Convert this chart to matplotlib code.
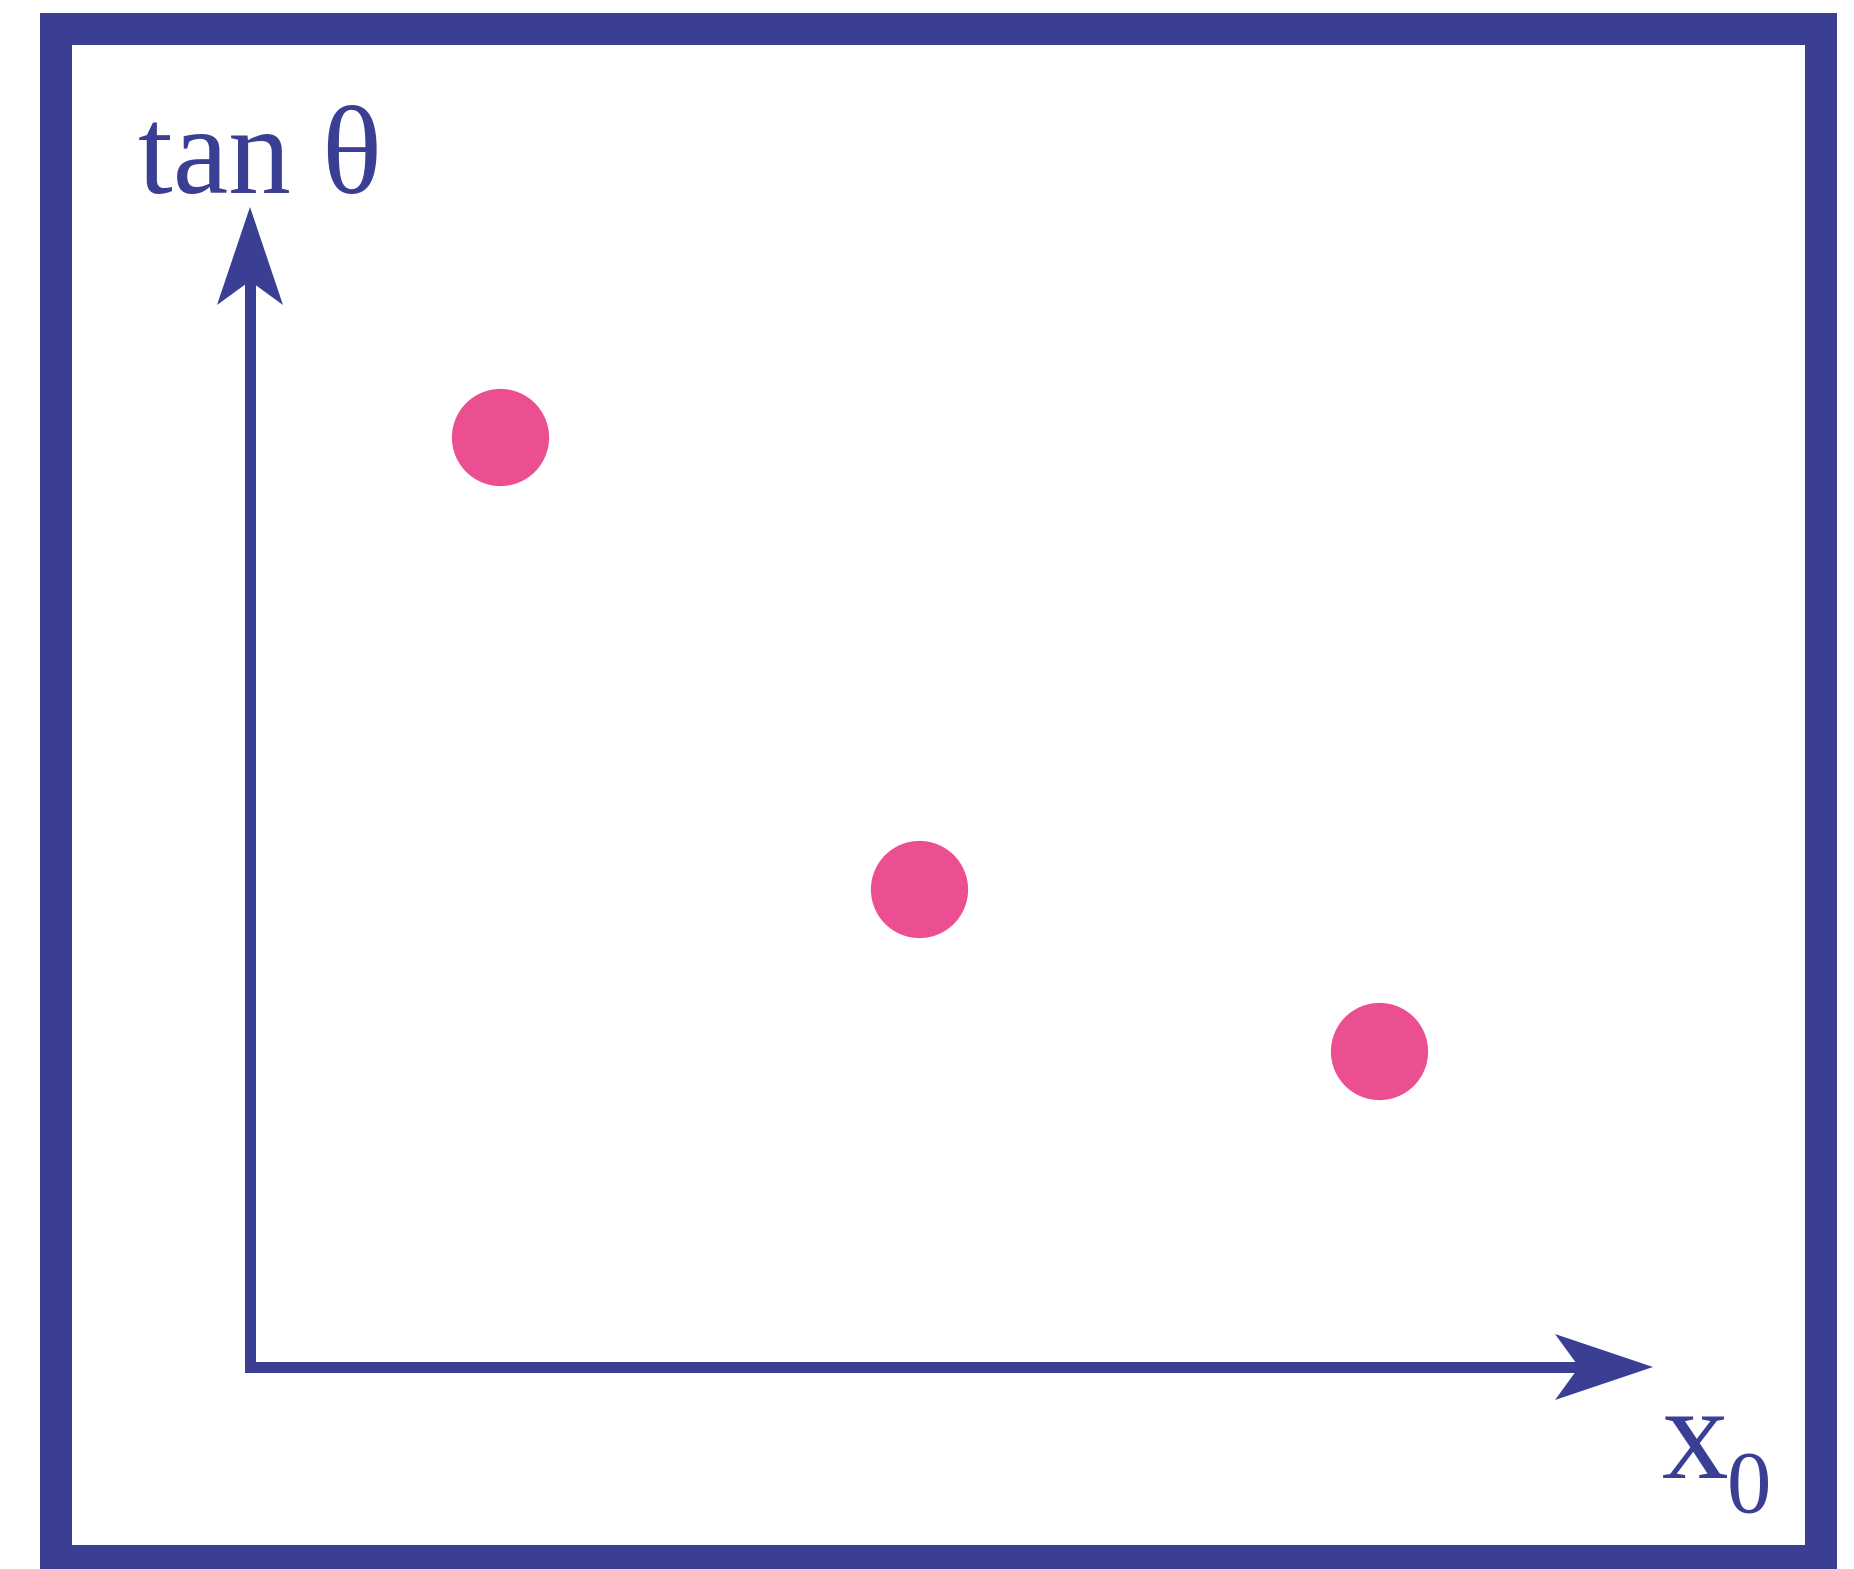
import numpy as np
import matplotlib.pyplot as plt
from matplotlib.patches import Rectangle, Polygon

# data: three measurements of tan(theta) against x0 (arbitrary units)
x0 = [2.5, 6.69, 11.29]
tan_theta = [9.3, 4.78, 3.16]

navy = '#3a3f94'
pink = '#ec4f91'

W, H = 1854, 1569
ox, oy = 250, 1367          # pixel position of the origin
scale = 100.0               # pixels per unit

fig = plt.figure(figsize=(W / 100, H / 100), dpi=100)
ax = fig.add_axes([0, 0, 1, 1])
ax.set_xlim(-ox / scale, (W - ox) / scale)
ax.set_ylim(-(H - oy) / scale, oy / scale)
ax.axis('off')

# outer frame, in figure pixels
frame = Rectangle((56 / W, 1 - 1561 / H), (1820.5 - 56) / W, (1561 - 28.5) / H,
                  transform=fig.transFigure, fill=False, edgecolor=navy,
                  linewidth=32 * 0.72, joinstyle='miter')
fig.patches.append(frame)

# axes lines with notched arrow heads
x_len = (1653 - ox) / scale
y_len = (oy - 207) / scale
lw = 11 * 0.72
ax.plot([0, 0], [0, y_len - 0.5], color=navy, lw=lw, solid_capstyle='butt')
ax.plot([0, x_len - 0.5], [0, 0], color=navy, lw=lw, solid_capstyle='butt')
ax.plot([0], [0], marker='s', ms=lw, color=navy, mew=0)

hl, hw, nd = 0.98, 0.33, 0.74
ax.add_patch(Polygon([[0, y_len], [-hw, y_len - hl], [0, y_len - nd], [hw, y_len - hl]],
                     closed=True, color=navy, lw=0))
ax.add_patch(Polygon([[x_len, 0], [x_len - hl, hw], [x_len - nd, 0], [x_len - hl, -hw]],
                     closed=True, color=navy, lw=0))

ax.plot(x0, tan_theta, 'o', color=pink, ms=70, mew=0)

font = 'Liberation Serif'
ax.text(-1.12, 11.74, 'tan θ', family=font, size=90, color=navy,
        ha='left', va='baseline')
ax.text(14.12, -1.11, 'x', family=font, size=96, color=navy,
        ha='left', va='baseline')
ax.text(14.77, -1.45, '0', family=font, size=64, color=navy,
        ha='left', va='baseline')

fig.savefig('out.png', dpi=100)
